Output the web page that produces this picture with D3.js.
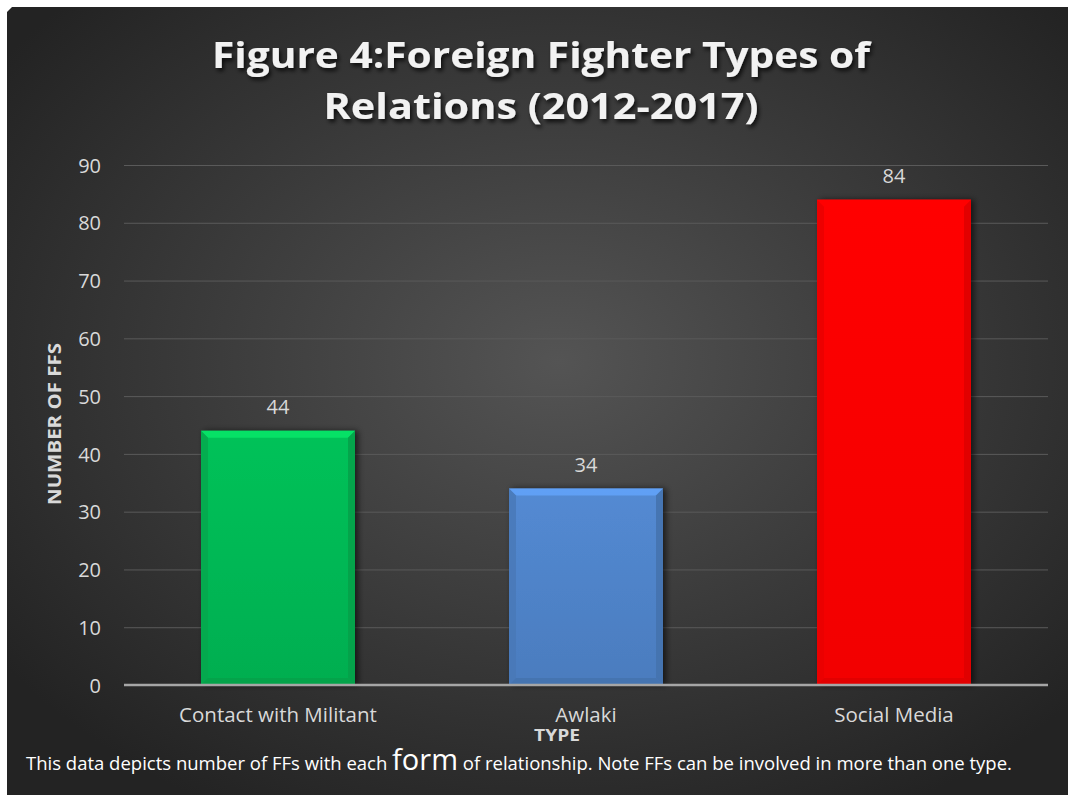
<!DOCTYPE html>
<html>
<head>
<meta charset="utf-8">
<script src="https://cdn.jsdelivr.net/npm/d3@7"></script>
<style>
  html, body { margin: 0; padding: 0; background: #ffffff; }
  svg { display: block; }
  text { font-family: "Open Sans", "DejaVu Sans", sans-serif; }
</style>
</head>
<body>
<svg id="chart" width="1068" height="795"></svg>
<script>
// Chart data
const categories = ["Contact with Militant", "Awlaki", "Social Media"];
const counts = [44, 34, 84];
const barColors = ["#06b854", "#4f83c8", "#ff0000"];
const yTicks = [0, 10, 20, 30, 40, 50, 60, 70, 80, 90];
const titleLines = ["Figure 4:Foreign Fighter Types of", "Relations (2012-2017)"];
const yAxisTitle = "NUMBER OF FFS";
const xAxisTitle = "TYPE";
const noteParts = [
  { text: "This data depicts number of FFs with each ", big: false },
  { text: "form", big: true },
  { text: " of relationship. Note FFs can be involved in more than one type.", big: false }
];

const W = 1068, H = 795;
const svg = d3.select("#chart");
const defs = svg.append("defs");

// Dark radial backdrop
const bg = defs.append("radialGradient").attr("id", "bgGrad")
  .attr("cx", "52%").attr("cy", "45%").attr("r", "65%");
bg.append("stop").attr("offset", "0%").attr("stop-color", "#545454");
bg.append("stop").attr("offset", "100%").attr("stop-color", "#232323");

const shadow = defs.append("filter").attr("id", "titleShadow")
  .attr("x", "-10%").attr("y", "-30%").attr("width", "130%").attr("height", "160%");
shadow.append("feDropShadow").attr("dx", 2).attr("dy", 3).attr("stdDeviation", 2)
  .attr("flood-color", "#000").attr("flood-opacity", 0.75);

const barShadow = defs.append("filter").attr("id", "barShadow")
  .attr("x", "-20%").attr("y", "-10%").attr("width", "140%").attr("height", "120%");
barShadow.append("feDropShadow").attr("dx", 3).attr("dy", 0).attr("stdDeviation", 3)
  .attr("flood-color", "#000").attr("flood-opacity", 0.6);

svg.append("path")
  .attr("d", `M7,12 L12,7 L${W},7 L${W},${H} L7,${H} Z`)
  .attr("fill", "url(#bgGrad)");

// Scales
const plot = { left: 124, right: 1048, top: 165, bottom: 685 };
const x = d3.scaleBand().domain(categories)
  .range([plot.left, plot.right]).paddingInner(0.5).paddingOuter(0.25);
const y = d3.scaleLinear().domain([0, 90]).range([plot.bottom, plot.top]);

// Gridlines
svg.append("g").selectAll("line").data(yTicks.filter(d => d > 0)).join("line")
  .attr("x1", plot.left).attr("x2", plot.right)
  .attr("y1", d => y(d) + 0.5).attr("y2", d => y(d) + 0.5)
  .attr("stroke", "#5a5a5a").attr("stroke-width", 1);

// Y axis labels
const yAxis = d3.axisLeft(y).tickValues(yTicks).tickSize(0).tickPadding(0);
const yG = svg.append("g").attr("transform", `translate(101,0)`).call(yAxis);
yG.select(".domain").remove();
yG.selectAll("text").attr("fill", "#d9d9d9").attr("font-size", 20)
  .attr("font-family", "'Open Sans', sans-serif").attr("dy", "0.36em");

// Bars with bevelled edges
const bev = 7;
const barG = svg.append("g");
categories.forEach((c, i) => {
  const x0 = x(c), x1 = x(c) + x.bandwidth();
  const y0 = y(counts[i]), y1 = y(0);
  const col = d3.color(barColors[i]);
  const g = barG.append("g");
  const gid = "barGrad" + i;
  const lg = defs.append("linearGradient").attr("id", gid)
    .attr("x1", 0).attr("y1", 0).attr("x2", 0).attr("y2", 1);
  lg.append("stop").attr("offset", "0%").attr("stop-color", col.brighter(0.15));
  lg.append("stop").attr("offset", "100%").attr("stop-color", col.darker(0.15));
  g.append("rect").attr("x", x0).attr("y", y0).attr("width", x1 - x0).attr("height", y1 - y0)
    .attr("fill", `url(#${gid})`).attr("filter", "url(#barShadow)");
  // top bevel
  g.append("path").attr("d", `M${x0},${y0} L${x1},${y0} L${x1 - bev},${y0 + bev} L${x0 + bev},${y0 + bev} Z`)
    .attr("fill", col.brighter(0.6)).attr("opacity", 0.9);
  // left bevel
  g.append("path").attr("d", `M${x0},${y0} L${x0 + bev},${y0 + bev} L${x0 + bev},${y1 - bev} L${x0},${y1} Z`)
    .attr("fill", col.darker(0.25)).attr("opacity", 0.8);
  // right bevel
  g.append("path").attr("d", `M${x1},${y0} L${x1 - bev},${y0 + bev} L${x1 - bev},${y1 - bev} L${x1},${y1} Z`)
    .attr("fill", col.darker(0.4)).attr("opacity", 0.85);
  // bottom bevel
  g.append("path").attr("d", `M${x0},${y1} L${x0 + bev},${y1 - bev} L${x1 - bev},${y1 - bev} L${x1},${y1} Z`)
    .attr("fill", col.darker(0.4)).attr("opacity", 0.8);
  // value label
  svg.append("text").attr("x", x0 + x.bandwidth() / 2).attr("y", y0 - 17)
    .attr("text-anchor", "middle").attr("fill", "#d9d9d9").attr("font-size", 20)
    .text(counts[i]);
});

// Baseline
svg.append("line").attr("x1", plot.left).attr("x2", plot.right)
  .attr("y1", y(0)).attr("y2", y(0))
  .attr("stroke", "#a6a6a6").attr("stroke-width", 2.5);

// Category labels
const xAxis = d3.axisBottom(x).tickSize(0).tickPadding(0);
const xG = svg.append("g").attr("transform", `translate(0,${y(0)})`).call(xAxis);
xG.select(".domain").remove();
xG.selectAll("text").attr("fill", "#d9d9d9").attr("font-size", 20.5)
  .attr("font-family", "'Open Sans', sans-serif").attr("dy", 0).attr("y", 37);

// Axis titles
svg.append("text").attr("x", 557).attr("y", 741).attr("text-anchor", "middle")
  .attr("fill", "#d9d9d9").attr("font-size", 16).attr("font-weight", "bold")
  .attr("textLength", 46).attr("lengthAdjust", "spacingAndGlyphs").text(xAxisTitle);
svg.append("text").attr("transform", "translate(61,424) rotate(-90)").attr("text-anchor", "middle")
  .attr("fill", "#d9d9d9").attr("font-size", 18).attr("font-weight", "bold")
  .attr("textLength", 162).attr("lengthAdjust", "spacingAndGlyphs").text(yAxisTitle);

// Title
const titleWidths = [658, 435];
svg.append("g").attr("filter", "url(#titleShadow)").selectAll("text").data(titleLines).join("text")
  .attr("x", 541).attr("y", (d, i) => 68 + i * 51).attr("text-anchor", "middle")
  .attr("fill", "#f2f2f2").attr("font-size", 35).attr("font-weight", "bold")
  .attr("textLength", (d, i) => titleWidths[i]).attr("lengthAdjust", "spacingAndGlyphs")
  .text(d => d);

// Footnote
const note = svg.append("text").attr("x", 26).attr("y", 770).attr("fill", "#ffffff").attr("font-size", 18.5);
noteParts.forEach(p => note.append("tspan").attr("font-size", p.big ? 29 : 18.5).text(p.text));
</script>
</body>
</html>
